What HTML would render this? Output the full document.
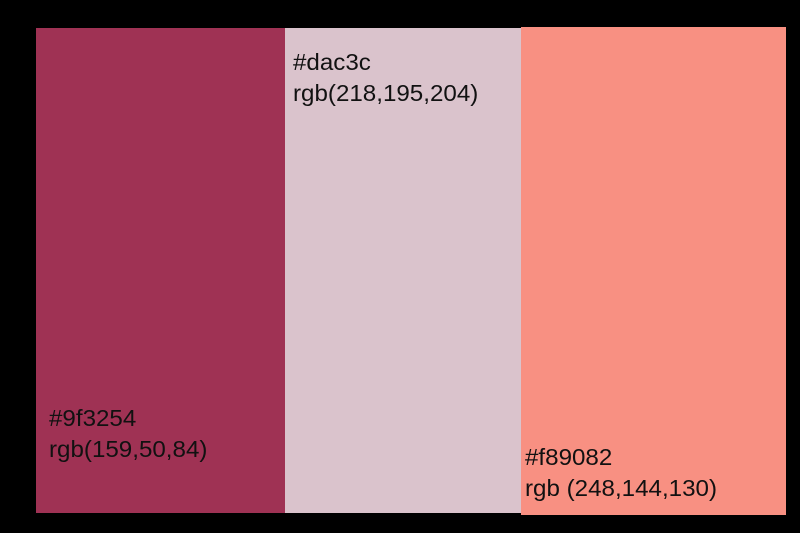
<!DOCTYPE html>
<html><head><meta charset="utf-8"><style>
body{margin:0;width:800px;height:533px;background:#000;position:relative;overflow:hidden;font-family:"Liberation Sans",sans-serif;}
.s{position:absolute;}
.t{position:absolute;font-size:23px;color:#111;line-height:31px;white-space:nowrap;transform:scaleX(1.05);transform-origin:left top;}
</style></head><body>
<div class="s" style="left:36px;top:28px;width:249px;height:485px;background:#9f3254;">
<div class="t" style="left:13px;top:375px;">#9f3254<br>rgb(159,50,84)</div></div>
<div class="s" style="left:285px;top:28px;width:236px;height:485px;background:#dac3cc;">
<div class="t" style="left:8px;top:19px;">#dac3c<br>rgb(218,195,204)</div></div>
<div class="s" style="left:521px;top:27px;width:265px;height:488px;background:#f89082;">
<div class="t" style="left:4px;top:415px;">#f89082<br>rgb (248,144,130)</div></div>
</body></html>
